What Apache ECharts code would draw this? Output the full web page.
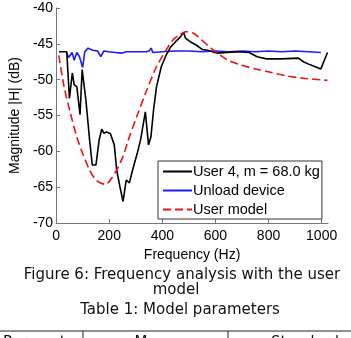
<!DOCTYPE html>
<html>
<head>
    <meta charset="utf-8">
    <title>Frequency analysis</title>
    <script src="https://cdn.jsdelivr.net/npm/echarts@6/dist/echarts.min.js"></script>
    <style>
        body { margin: 0; background: #fff; }
    </style>
</head>
<body>
    <div id="main" style="width: 351px;height:338px;"></div>
    <script type="text/javascript">
        // frequency (Hz) / magnitude (dB)
        var userFreq = [11, 40, 50, 61, 68, 78, 90, 98, 112, 126, 136, 150, 162, 172, 180, 189, 204, 219, 228, 240,
            252, 264, 276, 288, 306, 318, 336, 348, 357, 367, 378, 396, 414, 432, 450, 469, 480, 487, 505, 529,
            551, 571, 607, 643, 691, 727, 757, 793, 847, 913, 931, 955, 997, 1022];
        var userMag = [-46.1, -46.1, -52.6, -49.1, -50.7, -51.0, -54.9, -48.6, -52.8, -58.4, -61.9, -61.9, -58.4, -56.9, -57.5, -57.3, -57.5, -59.1, -62.6, -64.9,
            -67.0, -64.0, -64.4, -62.6, -60.2, -58.4, -54.5, -59.1, -58.0, -54.2, -51.0, -48.2, -46.6, -45.4, -44.7, -44.0, -43.4, -44.2, -44.7, -45.2,
            -45.8, -45.9, -46.3, -46.2, -46.1, -46.2, -46.8, -47.1, -47.1, -47.0, -47.5, -47.9, -48.5, -46.2];

        var unloadFreq = [40, 47, 54, 60, 68, 78, 88, 100, 108, 120, 138, 156, 168, 180, 198, 222, 246, 264, 300, 340,
            350, 358, 364, 400, 450, 500, 550, 600, 650, 700, 750, 800, 850, 900, 950, 997];
        var unloadMag = [-46.3, -46.9, -46.7, -46.2, -47.3, -46.2, -46.8, -48.3, -46.1, -45.6, -45.9, -46.0, -46.8, -46.0, -46.1, -46.2, -46.3, -46.1, -46.1, -46.1,
            -46.0, -45.6, -46.2, -46.1, -46.0, -46.0, -46.1, -46.0, -46.1, -46.0, -46.1, -46.0, -46.1, -46.0, -46.1, -46.2];

        var modelFreq = [10, 30, 54, 78, 102, 126, 150, 186, 204, 228, 252, 270, 306, 342, 378, 414, 439, 462, 490, 516,
            535, 583, 643, 691, 751, 811, 871, 931, 1022];
        var modelMag = [-46.6, -51.0, -54.7, -58.0, -60.5, -62.6, -64.0, -64.6, -64.0, -62.6, -60.7, -58.6, -54.9, -51.4, -48.2, -45.9, -44.5, -43.8, -43.3, -43.5,
            -44.0, -45.6, -47.2, -47.9, -48.5, -49.0, -49.5, -49.8, -50.1];

        var xTicks = [0, 200, 400, 600, 800, 1000];
        var seriesNames = ['User 4, m = 68.0 kg', 'Unload device', 'User model'];

        function pairs(xs, ys) {
            var out = [];
            for (var i = 0; i < xs.length; i++) out.push([xs[i], ys[i]]);
            return out;
        }

        var myChart = echarts.init(document.getElementById('main'));
        var font = 'Liberation Sans, Arial, sans-serif';
        var capFont = 'DejaVu Sans, Verdana, sans-serif';
        var capStyle = function (txt) {
            return { text: txt, font: '15px ' + capFont, fill: '#111', align: 'center', verticalAlign: 'middle' };
        };

        var option = {
            animation: false,
            grid: { left: 45, right: 23, top: 8, bottom: 115 },
            legend: {
                orient: 'vertical',
                left: 158,
                top: 161,
                data: seriesNames,
                itemWidth: 29,
                itemHeight: 14,
                itemGap: 4,
                padding: [3, 2, 2, 4],
                backgroundColor: '#fff',
                borderColor: '#333',
                borderWidth: 1,
                borderRadius: 0,
                itemStyle: { opacity: 0 },
                textStyle: { fontFamily: font, fontSize: 14.5, color: '#000', padding: [0, 0, 0, -4] }
            },
            xAxis: {
                type: 'value',
                min: 0,
                max: 1024,
                name: 'Frequency (Hz)',
                nameLocation: 'middle',
                nameGap: 21,
                nameTextStyle: { fontFamily: font, fontSize: 14, color: '#000' },
                axisLine: { onZero: false, lineStyle: { color: '#777', width: 1 } },
                axisTick: { inside: true, length: 4, customValues: xTicks, lineStyle: { color: '#777' } },
                axisLabel: {
                    customValues: xTicks, fontFamily: font, fontSize: 14, color: '#000', margin: 6,
                    formatter: function (v) { return String(v); }
                },
                splitLine: { show: false }
            },
            yAxis: {
                type: 'value',
                min: -70,
                max: -40,
                interval: 5,
                name: 'Magnitude |H| (dB)',
                nameLocation: 'middle',
                nameGap: 31,
                nameTextStyle: { fontFamily: font, fontSize: 14, color: '#000' },
                axisLine: { show: true, lineStyle: { color: '#777', width: 1 } },
                axisTick: { show: true, inside: true, length: 4, lineStyle: { color: '#777' } },
                axisLabel: { fontFamily: font, fontSize: 14, color: '#000', margin: 3 },
                splitLine: { show: false }
            },
            series: [
                {
                    name: seriesNames[0],
                    type: 'line',
                    symbol: 'none',
                    data: pairs(userFreq, userMag),
                    lineStyle: { color: '#000', width: 1.6 },
                    itemStyle: { color: '#000' },
                    z: 3
                },
                {
                    name: seriesNames[1],
                    type: 'line',
                    symbol: 'none',
                    data: pairs(unloadFreq, unloadMag),
                    lineStyle: { color: '#1a1aff', width: 1.6 },
                    itemStyle: { color: '#1a1aff' },
                    z: 2
                },
                {
                    name: seriesNames[2],
                    type: 'line',
                    symbol: 'none',
                    smooth: 0.3,
                    data: pairs(modelFreq, modelMag),
                    lineStyle: { color: '#f01010', width: 1.6, type: [8, 4] },
                    itemStyle: { color: '#f01010' },
                    z: 4
                }
            ],
            graphic: [
                { type: 'text', x: 182, y: 275, style: capStyle('Figure 6: Frequency analysis with the user') },
                { type: 'text', x: 176, y: 290, style: capStyle('model') },
                { type: 'text', x: 180, y: 310, style: capStyle('Table 1: Model parameters') },
                { type: 'line', shape: { x1: 0, y1: 331, x2: 351, y2: 331 }, style: { stroke: '#222', lineWidth: 1 } },
                { type: 'line', shape: { x1: 83, y1: 331, x2: 83, y2: 338 }, style: { stroke: '#222', lineWidth: 1 } },
                { type: 'line', shape: { x1: 228, y1: 331, x2: 228, y2: 338 }, style: { stroke: '#222', lineWidth: 1 } },
                { type: 'text', x: 42, y: 343, style: capStyle('Parameter') },
                { type: 'text', x: 155, y: 343, style: capStyle('Mean') },
                { type: 'text', x: 305, y: 343, style: capStyle('Standard') }
            ]
        };
        myChart.setOption(option);
    </script>
</body>
</html>
